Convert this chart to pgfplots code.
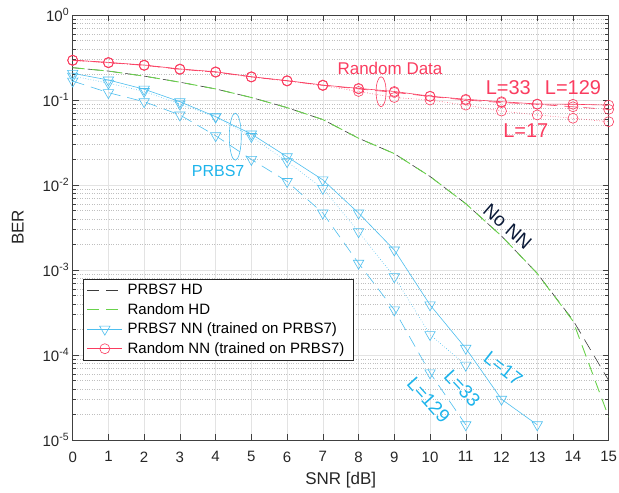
\documentclass[border=0pt]{standalone}
\usepackage{fontspec}
\setmainfont{Liberation Sans}
\usepackage{pgfplots}
\pgfplotsset{compat=1.18}
\definecolor{cy}{RGB}{77,190,238}
\definecolor{cyt}{RGB}{30,180,235}
\definecolor{rd}{RGB}{250,60,95}
\definecolor{gr}{RGB}{105,210,75}
\definecolor{hd}{RGB}{60,60,60}
\definecolor{nn}{RGB}{10,25,55}
\begin{document}
\begin{tikzpicture}
\begin{axis}[
  scale only axis, width=536pt, height=425pt,
  xmin=0, xmax=15, ymin=1e-5, ymax=1, ymode=log,
  xtick={0,...,15},
  ytick={1e-5,1e-4,1e-3,1e-2,1e-1,1},
  yticklabels={10\textsuperscript{-5},10\textsuperscript{-4},10\textsuperscript{-3},10\textsuperscript{-2},10\textsuperscript{-1},10\textsuperscript{0}},
  /pgf/number format/assume math mode=true,
  tick label style={font=\fontsize{15}{18}\selectfont, text=black!85},
  xticklabel style={yshift=-8pt},
  xlabel={SNR [dB]}, ylabel={BER},
  label style={font=\fontsize{17}{20}\selectfont, text=black!85},
  xlabel style={at={(axis description cs:0.5,-0.094)}, anchor=center},
  ylabel style={at={(axis description cs:-0.1026,0.5)}, anchor=center},
  xmajorgrids, ymajorgrids, yminorgrids,
  major grid style={gray!22, line width=0.5pt},
  minor grid style={gray!50, dotted, line width=0.5pt},
  axis line style={black!75, line width=0.6pt},
  tick style={black!75, line width=0.5pt},
  tick align=inside, major tick length=6pt, minor tick length=3.5pt,
  legend image code/.code={\draw[mark repeat=2,mark phase=2,#1] plot coordinates {(0pt,0pt) (17.5pt,0pt) (35pt,0pt)};},
  legend style={at={(rel axis cs:0.0187,0.379)}, anchor=north west, draw=black!85, line width=0.6pt, fill=white,
    font=\fontsize{15}{18}\selectfont, row sep=3.2pt, inner xsep=4pt, inner ysep=3pt,
    nodes={inner xsep=5pt}},
  legend cell align=left,
]
\coordinate (sw) at (rel axis cs:0,0);
\addlegendimage{hd, line width=0.6pt, dash pattern=on 12pt off 7pt}
\addlegendentry{PRBS7 HD}
\addlegendimage{gr, line width=0.6pt, dash pattern=on 12pt off 7pt}
\addlegendentry{Random HD}
\addlegendimage{cy, line width=0.6pt, mark=triangle, mark size=6pt, mark options={rotate=180, solid}}
\addlegendentry{PRBS7 NN (trained on PRBS7)}
\addlegendimage{rd, line width=0.6pt, mark=o, mark size=5pt}
\addlegendentry{Random NN (trained on PRBS7)}

% PRBS7 HD
\addplot[forget plot, hd, line width=0.6pt, dash pattern=on 12pt off 7pt, dash phase=4pt] coordinates {
(0,0.240) (1,0.219) (2,0.191) (3,0.162) (4,0.135) (5,0.107) (6,0.0813) (7,0.0589)
(8,0.0355) (9,0.0234) (10,0.0126) (11,0.00603) (12,0.00251) (13,9.12e-4) (14,2.57e-4) (15,5.01e-5)};
% Random HD
\addplot[forget plot, gr, line width=0.9pt, dash pattern=on 12pt off 7pt] coordinates {
(0,0.240) (1,0.219) (2,0.191) (3,0.162) (4,0.135) (5,0.107) (6,0.0813) (7,0.0589)
(8,0.0355) (9,0.0234) (10,0.0126) (11,0.00603) (12,0.00251) (13,9.12e-4) (14,2.51e-4) (15,1.86e-5)};

% PRBS7 NN L=17 (solid)
\addplot[forget plot, cy, line width=0.6pt, mark=triangle, mark size=6pt, mark options={rotate=180, solid}] coordinates {
(0,0.206) (1,0.172) (2,0.134) (3,0.0955) (4,0.0637) (5,0.0398) (6,0.0215) (7,0.0115)
(8,0.00468) (9,0.00172) (10,3.89e-4) (11,1.20e-4) (12,3.02e-5) (13,1.51e-5)};
% PRBS7 NN L=33 (dotted)
\addplot[forget plot, cy, line width=0.6pt, dotted, mark=triangle, mark size=6pt, mark options={rotate=180, solid}] coordinates {
(0,0.191) (1,0.158) (2,0.126) (3,0.0897) (4,0.0631) (5,0.0372) (6,0.0188) (7,0.00912)
(8,0.00282) (9,8.32e-4) (10,1.74e-4) (11,7.59e-5)};
% PRBS7 NN L=129 (dashed)
\addplot[forget plot, cy, line width=0.6pt, dash pattern=on 12pt off 7pt, mark=triangle, mark size=6pt, mark options={rotate=180, solid}] coordinates {
(0,0.167) (1,0.122) (2,0.0955) (3,0.0667) (4,0.0380) (5,0.0200) (6,0.0110) (7,0.00468)
(8,0.00120) (9,3.39e-4) (10,6.17e-5) (11,1.51e-5)};

% Random NN L=17 (dotted)
\addplot[forget plot, rd, line width=0.6pt, dotted, mark=o, mark size=5pt, mark options={solid}] coordinates {
(0,0.292) (1,0.274) (2,0.255) (3,0.229) (4,0.212) (5,0.186) (6,0.167) (7,0.148)
(8,0.126) (9,0.107) (10,0.100) (11,0.0871) (12,0.0741) (13,0.0667) (14,0.0610) (15,0.0556)};
% Random NN L=129 (dashed)
\addplot[forget plot, rd, line width=0.6pt, dash pattern=on 12pt off 7pt, mark=o, mark size=5pt, mark options={solid}] coordinates {
(0,0.293) (1,0.275) (2,0.256) (3,0.230) (4,0.213) (5,0.187) (6,0.168) (7,0.149)
(8,0.135) (9,0.123) (10,0.110) (11,0.100) (12,0.0933) (13,0.0891) (14,0.0832) (15,0.0776)};
% Random NN L=33 (solid)
\addplot[forget plot, rd, line width=0.6pt, mark=o, mark size=5pt] coordinates {
(0,0.295) (1,0.277) (2,0.258) (3,0.232) (4,0.215) (5,0.188) (6,0.169) (7,0.150)
(8,0.137) (9,0.126) (10,0.111) (11,0.102) (12,0.0955) (13,0.0897) (14,0.0891) (15,0.0871)};

% annotations
\node[text=rd, font=\fontsize{17}{20}\selectfont] at (axis cs:8.88,0.236) {Random Data};
\draw[rd, line width=0.6pt] (axis cs:8.63,0.125) ellipse [x radius=5pt, y radius=15pt];
\node[text=rd, font=\fontsize{20}{24}\selectfont] at (axis cs:12.19,0.141) {L=33};
\node[text=rd, font=\fontsize{20}{24}\selectfont] at (axis cs:14.0,0.141) {L=129};
\node[text=rd, font=\fontsize{20}{24}\selectfont] at (axis cs:12.68,0.0436) {L=17};
\node[text=cyt, font=\fontsize{16}{19}\selectfont] at (axis cs:4.07,0.0148) {PRBS7};
\draw[cy, line width=0.6pt] (axis cs:4.55,0.037) ellipse [x radius=6pt, y radius=23.5pt];
\node[text=nn, font=\fontsize{19}{22}\selectfont, rotate=-41, inner sep=0pt] at (axis cs:12.17,0.00324) {No NN};
\node[text=cyt, font=\fontsize{19}{23}\selectfont, rotate=-38, inner sep=0pt] at (axis cs:12.05,6.97e-5) {L=17};
\node[text=cyt, font=\fontsize{19}{23}\selectfont, rotate=-47, inner sep=0pt] at (axis cs:10.9,4.07e-5) {L=33};
\node[text=cyt, font=\fontsize{19}{23}\selectfont, rotate=-48, inner sep=0pt] at (axis cs:9.96,2.95e-5) {L=129};
\end{axis}
\pgfresetboundingbox
\path[use as bounding box] (sw) ++(-72.7pt,-53pt) rectangle ++(619pt,493pt);
\end{tikzpicture}
\end{document}
